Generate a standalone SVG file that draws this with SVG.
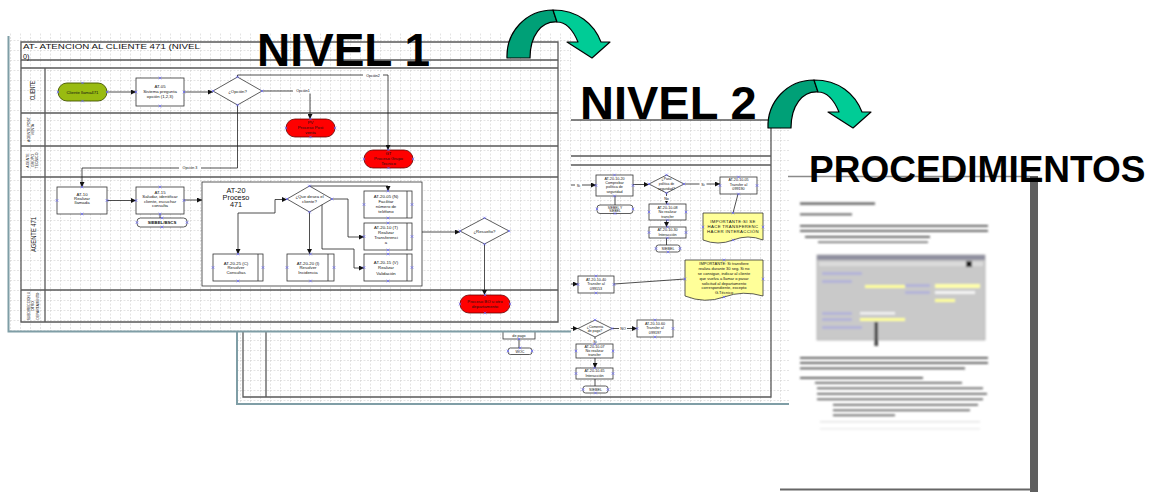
<svg xmlns="http://www.w3.org/2000/svg" xmlns:xlink="http://www.w3.org/1999/xlink" width="1151" height="492" viewBox="0 0 1151 492">
<defs>
<style>
text{font-family:"Liberation Sans",Arial,sans-serif;fill:#111}
.t{font-size:4.3px;text-anchor:middle}
.s{font-size:3.7px;text-anchor:middle}
.box{fill:#fff;stroke:#333;stroke-width:0.8}
.sub{fill:none;stroke:#333;stroke-width:0.8}
.red{fill:#f00;stroke:#600;stroke-width:0.8}
.grn{fill:#99bb11;stroke:#445500;stroke-width:0.9}
.doc{fill:#ffff99;stroke:#333;stroke-width:0.8}
.frm{fill:none;stroke:#5a5a5a;stroke-width:1.3}
.c{fill:none;stroke:#222;stroke-width:0.8}
.a{marker-end:url(#ah)}
.lb{fill:#fff}
.big{font-weight:bold;fill:#000}
.pb{fill:none;stroke:#7f9ea6;stroke-width:2}
.ga{stroke:#000;stroke-width:1.2;stroke-linejoin:round}
.bt{fill:#555}
</style>
<pattern id="grid" width="10" height="10" patternUnits="userSpaceOnUse">
<path d="M0,0.5H10M0.5,0V10" fill="none" stroke="#d2d2d2" stroke-width="0.6" stroke-dasharray="2,1.5"/>
</pattern>
<marker id="ah" markerWidth="5" markerHeight="5" refX="5" refY="2.5" orient="auto" markerUnits="userSpaceOnUse"><path d="M0,0L5,2.5L0,5Z" fill="#111"/></marker>
<path id="xm" d="M-1.3,-1.3L1.3,1.3M-1.3,1.3L1.3,-1.3" stroke="#6d6dff" stroke-width="0.7"/>
<filter id="bl" filterUnits="userSpaceOnUse" x="780" y="190" width="250" height="260"><feGaussianBlur stdDeviation="1.1"/></filter>
<g id="garrow">
<path class="ga" fill="#00a077" d="M507,58 C506,32 526,10 553,10 L557,22 C541,21 530,36 530,58 Z"/>
<path class="ga" fill="#00cc96" d="M553,10 C578,10 594,24 601,42 L610,42 L592,58 L567,42 L578,42 C573,30 567,22 557,22 Z"/>
</g>
</defs>
<rect width="1151" height="492" fill="#fff"/>

<!-- LEVEL 2 SHEET -->
<g id="nivel2-sheet">
<rect x="237" y="120" width="553" height="284" fill="#fff"/>
<rect x="237" y="120" width="553" height="284" fill="url(#grid)"/>
<path class="pb" d="M237,330V404H790"/>
<path class="frm" d="M243,120H771V397H243Z M243,156H771 M243,165H771 M266,165V397"/>
</g>
<g id="nivel2-nodes">
<g id="n2-comprobar"><rect class="box" x="596" y="175" width="37" height="21"/><text class="s"><tspan x="614.5" y="179.5">AT-20-10-20</tspan><tspan x="614.5" y="183.8">Comprobar</tspan><tspan x="614.5" y="188.3">política de</tspan><tspan x="614.5" y="192.7">seguridad</tspan></text></g>
<g id="n2-siebely"><rect class="box" x="597" y="205" width="36" height="8.5" rx="3"/><text class="s" style="font-size:3.3px"><tspan x="615" y="208.6">SIEBEL Y</tspan><tspan x="615" y="212.3">SIEBEL</tspan></text></g>
<g id="n2-pasa"><path class="box" d="M649,184L666.5,175L684,184L666.5,193Z"/><text class="s" style="font-size:3.4px"><tspan x="666.5" y="180">¿Pasa</tspan><tspan x="666.5" y="184.8">política de</tspan><tspan x="666.5" y="189.6">seguridad?</tspan></text></g>
<g id="n2-transfer190"><rect class="box" x="720" y="177" width="37" height="17"/><text class="s"><tspan x="738.5" y="181.2">AT-20-10-05</tspan><tspan x="738.5" y="185.7">Transfer al</tspan><tspan x="738.5" y="190.4">099190</tspan></text></g>
<g id="n2-norealizar1"><rect class="box" x="649" y="204" width="37" height="16"/><text class="s"><tspan x="667.5" y="208.6">AT-20-10-08</tspan><tspan x="667.5" y="213.4">No realizar</tspan><tspan x="667.5" y="218.2">transfer</tspan></text></g>
<g id="n2-interaccion1"><rect class="box" x="649" y="227" width="37" height="11"/><text class="s"><tspan x="667.5" y="231">AT-20-10-30</tspan><tspan x="667.5" y="235.8">Interacción</tspan></text></g>
<g id="n2-siebel1"><rect class="box" x="656" y="245" width="24" height="7" rx="2.5"/><text class="s" x="668" y="250">SIEBEL</text></g>
<g id="n2-doc1"><path class="doc" d="M703,213H763V240Q748,234 733,240T703,240Z"/><text class="t" style="letter-spacing:0.35px"><tspan x="733" y="222.5">IMPORTANTE:SI SE</tspan><tspan x="733" y="227.7">HACE TRANSFERENC</tspan><tspan x="733" y="233.3">HACER INTERACCIÓN</tspan></text></g>
<g id="n2-doc2"><path class="doc" d="M685,260H763V296Q743,290 724,297T685,296Z"/><text class="s" style="font-size:4px"><tspan x="724" y="265.3">IMPORTANTE: Si transfiere</tspan><tspan x="724" y="270.1">realiza durante 30 seg. Si no</tspan><tspan x="724" y="274.9">se consigue, indicar al cliente</tspan><tspan x="724" y="279.7">que vuelva a llamar o pasar</tspan><tspan x="724" y="284.5">solicitud al departamento</tspan><tspan x="724" y="289.3">correspondiente, excepto</tspan><tspan x="724" y="294.1">G.Técnico</tspan></text></g>
<g id="n2-transfer153"><rect class="box" x="578" y="276" width="36" height="17"/><text class="s"><tspan x="596" y="280.5">AT-20-10-40</tspan><tspan x="596" y="285.3">Transfer al</tspan><tspan x="596" y="290.2">099153</tspan></text></g>
<g id="n2-comenta"><path class="box" d="M578,328.5L595,320L612,328.5L595,337Z"/><text class="s" style="font-size:3.5px"><tspan x="595" y="327.5">¿Comenta</tspan><tspan x="595" y="332.3">de pago?</tspan></text></g>
<g id="n2-transfer197"><rect class="box" x="637" y="320" width="36" height="17"/><text class="s"><tspan x="655" y="324.5">AT-20-10-60</tspan><tspan x="655" y="329.4">Transfer al</tspan><tspan x="655" y="334.3">099197</tspan></text></g>
<g id="n2-norealizar2"><rect class="box" x="576" y="344" width="37" height="14"/><text class="s"><tspan x="594.5" y="347.5">AT-20-10-07</tspan><tspan x="594.5" y="351.8">No realizar</tspan><tspan x="594.5" y="356.4">transfer</tspan></text></g>
<g id="n2-interaccion2"><rect class="box" x="576" y="368" width="37" height="11"/><text class="s"><tspan x="594.5" y="372">AT-20-10-65</tspan><tspan x="594.5" y="377.3">Interacción</tspan></text></g>
<g id="n2-siebel2"><rect class="box" x="583" y="386" width="25" height="7" rx="2.5"/><text class="s" x="595.5" y="391.3">SIEBEL</text></g>
<g id="n2-depago"><rect class="box" x="503" y="322" width="32" height="17"/><text class="s" x="519" y="336.6">de pago</text></g>
<g id="n2-woc"><rect class="box" x="508" y="348" width="24" height="6.5" rx="2.5"/><text class="s" x="520" y="352.8">WOC</text></g>
</g>
<g id="nivel2-connectors">
<path class="c a" d="M570,185H596"/>
<path class="c" d="M615,196V205"/>
<path class="c a" d="M633,184.5H649"/>
<path class="c a" d="M684,184H720"/>
<path class="c a" d="M666.5,193V204"/>
<path class="c a" d="M666.5,220V227"/>
<path class="c" d="M666.5,238V245"/>
<path class="c" d="M738,194L733,213"/>
<path class="c a" d="M570,284H578"/>
<path class="c" d="M614,284L685,279"/>
<path class="c a" d="M570,328.5H578"/>
<path class="c a" d="M612,328.5H637"/>
<path class="c a" d="M595,337V344"/>
<path class="c a" d="M595,358V368"/>
<path class="c" d="M595,379V386"/>
<path class="c" d="M519,339V348"/>
<rect class="lb" x="575" y="182.5" width="7" height="5"/><text class="s" x="578.5" y="186.5">Si</text>
<rect class="lb" x="699.5" y="182" width="7" height="5"/><text class="s" x="703" y="186">Si</text>
<rect class="lb" x="663" y="196" width="7" height="5"/><text class="s" x="666.5" y="200">No</text>
<rect class="lb" x="619" y="326.5" width="8" height="5"/><text class="s" x="623" y="330.3">NO</text>
<rect class="lb" x="591.5" y="339" width="7" height="4.5"/><text class="s" x="595" y="342.6">Si</text>
</g>
<g id="nivel2-points">
<use href="#xm" x="614.5" y="175"/><use href="#xm" x="614.5" y="196"/><use href="#xm" x="596" y="185.5"/><use href="#xm" x="633" y="185.5"/>
<use href="#xm" x="597" y="209"/><use href="#xm" x="633" y="209"/><use href="#xm" x="615" y="213.5"/>
<use href="#xm" x="666.5" y="175"/><use href="#xm" x="649" y="184"/><use href="#xm" x="684" y="184"/><use href="#xm" x="666.5" y="193"/>
<use href="#xm" x="738.5" y="177"/><use href="#xm" x="738.5" y="194"/><use href="#xm" x="720" y="185.5"/><use href="#xm" x="757" y="185.5"/>
<use href="#xm" x="667.5" y="204"/><use href="#xm" x="667.5" y="220"/><use href="#xm" x="649" y="212"/><use href="#xm" x="686" y="212"/>
<use href="#xm" x="667.5" y="227"/><use href="#xm" x="667.5" y="238"/><use href="#xm" x="649" y="232.5"/><use href="#xm" x="686" y="232.5"/>
<use href="#xm" x="668" y="252"/><use href="#xm" x="656" y="248.5"/><use href="#xm" x="680" y="248.5"/>
<use href="#xm" x="733" y="213"/><use href="#xm" x="703" y="227"/><use href="#xm" x="763" y="227"/><use href="#xm" x="733" y="240"/>
<use href="#xm" x="724" y="260"/><use href="#xm" x="685" y="279"/><use href="#xm" x="763" y="279"/><use href="#xm" x="724" y="297"/>
<use href="#xm" x="596" y="276"/><use href="#xm" x="596" y="293"/><use href="#xm" x="578" y="284.5"/><use href="#xm" x="614" y="284.5"/>
<use href="#xm" x="595" y="320"/><use href="#xm" x="612" y="328.5"/>
<use href="#xm" x="655" y="320"/><use href="#xm" x="655" y="337"/><use href="#xm" x="637" y="328.5"/><use href="#xm" x="673" y="328.5"/>
<use href="#xm" x="594.5" y="344"/><use href="#xm" x="576" y="351"/><use href="#xm" x="613" y="351"/>
<use href="#xm" x="594.5" y="368"/><use href="#xm" x="576" y="373.5"/><use href="#xm" x="613" y="373.5"/>
<use href="#xm" x="595.5" y="393"/><use href="#xm" x="583" y="389.5"/><use href="#xm" x="608" y="389.5"/>
<use href="#xm" x="519" y="339"/><use href="#xm" x="520" y="348"/><use href="#xm" x="508" y="351"/><use href="#xm" x="532" y="351"/>
</g>

<!-- PROCEDURES PAGE -->
<g id="procedimientos-page">
<rect x="789" y="176" width="241" height="313" fill="#fff"/>
<rect x="1030" y="176" width="8" height="316" fill="#5f5f5f"/>
<path d="M788,176.5H1030" stroke="#8a8a8a" stroke-width="1.3"/>
<path d="M780,489.5H1031" stroke="#666" stroke-width="2"/>
<g filter="url(#bl)">
<rect class="bt" x="800" y="202.5" width="75" height="2.2"/>
<rect class="bt" x="800" y="213.5" width="52" height="1.8" fill="#777"/>
<rect class="bt" x="800" y="225" width="188" height="1.8"/>
<rect class="bt" x="800" y="230" width="188" height="1.8"/>
<rect class="bt" x="805" y="236" width="125" height="1.8"/>
<rect class="bt" x="818" y="241.5" width="110" height="1.4" fill="#888"/>
<rect x="817" y="255" width="168" height="85" fill="#c9c9c9" stroke="#aaa" stroke-width="0.8"/>
<rect x="817" y="255" width="168" height="5" fill="#8f8f9f"/>
<rect x="819" y="262" width="164" height="4" fill="#dcdcdc"/>
<rect x="966" y="261" width="6" height="6" fill="#222"/>
<rect x="822" y="272" width="40" height="3" fill="#b4b4d8"/>
<rect x="822" y="280" width="30" height="3" fill="#b4b4d8"/>
<rect x="865" y="285" width="40" height="3" fill="#ffff99"/>
<rect x="905" y="284" width="25" height="3" fill="#b4b4d8"/>
<rect x="935" y="284" width="45" height="4" fill="#ffffaa"/>
<rect x="905" y="291" width="25" height="3" fill="#b4b4d8"/>
<rect x="935" y="291" width="40" height="3" fill="#f4f4f4"/>
<rect x="935" y="299" width="20" height="3" fill="#ffff99"/>
<rect x="822" y="312" width="30" height="3" fill="#b4b4d8"/>
<rect x="860" y="312" width="35" height="2.5" fill="#f4f4f4"/>
<rect x="822" y="318" width="30" height="3" fill="#b4b4d8"/>
<rect x="860" y="318" width="45" height="3" fill="#ffff99"/>
<rect x="822" y="326" width="40" height="3" fill="#b4b4d8"/>
<rect x="874.5" y="322" width="3.5" height="24" fill="#444"/>
<rect class="bt" x="800" y="357" width="188" height="1.8"/>
<rect class="bt" x="800" y="362" width="188" height="1.8"/>
<rect class="bt" x="800" y="367.5" width="165" height="1.8"/>
<rect class="bt" x="800" y="377" width="123" height="1.8"/>
<rect class="bt" x="815" y="382" width="147" height="1.6"/>
<rect class="bt" x="817" y="387.5" width="166" height="1.6"/>
<rect class="bt" x="817" y="393" width="170" height="1.6"/>
<rect class="bt" x="817" y="398.5" width="166" height="1.6"/>
<rect class="bt" x="833" y="404" width="145" height="1.6"/>
<rect class="bt" x="833" y="409.5" width="137" height="1.6"/>
<rect class="bt" x="833" y="414.5" width="62" height="1.6"/>
<rect x="820" y="421" width="160" height="1.5" fill="#e4e4e4"/>
<rect x="820" y="428" width="160" height="1.5" fill="#ececec"/>
</g>
</g>

<!-- LEVEL 1 SHEET -->
<g id="nivel1-sheet">
<rect x="8" y="33" width="563" height="298" fill="#fff"/>
<rect x="8" y="33" width="563" height="298" fill="url(#grid)"/>
<path class="pb" d="M8.5,36V331.5H571" stroke-width="1.6"/>
<path class="frm" d="M21,42H558V322H21Z M21,60H558 M21,68H558 M21,113H558 M21,146H558 M21,177H558 M21,290H558 M45,68V322"/>
<text x="23" y="48.5" style="font-size:7.2px" textLength="177" lengthAdjust="spacingAndGlyphs">AT- ATENCION AL CLIENTE 471 (NIVEL</text>
<text x="23" y="58.5" style="font-size:7.2px">0)</text>
<text transform="translate(35,90.5) rotate(-90)" style="font-size:7px;text-anchor:middle" textLength="19" lengthAdjust="spacingAndGlyphs">CLIENTE</text>
<text transform="translate(29.5,129.5) rotate(-90)" class="s" style="font-size:3.5px"><tspan x="0" y="0">AGENTE POST</tspan><tspan x="0" y="4.5">VENTA</tspan></text>
<text transform="translate(29,160.5) rotate(-90)" class="s" style="font-size:3.5px"><tspan x="0" y="0">AGENTE</tspan><tspan x="0" y="4.5">GRUPO</tspan><tspan x="0" y="9">TECNICO</tspan></text>
<text transform="translate(36,234.5) rotate(-90)" style="font-size:8px;text-anchor:middle" textLength="35" lengthAdjust="spacingAndGlyphs">AGENTE 471</text>
<text transform="translate(29.5,306) rotate(-90)" class="s" style="font-size:3.3px"><tspan x="0" y="0">SUBDIRECCION U</tspan><tspan x="0" y="4.7">OTRO</tspan><tspan x="0" y="9.4">DEPARTAMENTO</tspan></text>
</g>
<g id="nivel1-nodes">
<g id="n1-cliente"><rect class="grn" x="58" y="83" width="49" height="18" rx="9"/><text class="t" x="82.5" y="93.5">Cliente llama471</text></g>
<g id="n1-at05"><rect class="box" x="136" y="78" width="48" height="28"/><text class="t"><tspan x="160" y="87.5">AT-05</tspan><tspan x="160" y="92.5">Sistema pregunta</tspan><tspan x="160" y="97.5">opción (1,2,3)</tspan></text></g>
<g id="n1-opcion"><path class="box" d="M213,91L237.5,77L262,91L237.5,105Z"/><text class="t" x="237.5" y="92.5">¿Opción?</text></g>
<g id="n1-pv"><rect class="red" x="286" y="119" width="49" height="18" rx="9"/><text class="t"><tspan x="310.5" y="123.8">PV</tspan><tspan x="310.5" y="128.8">Proceso Post</tspan><tspan x="310.5" y="133.8">venta</tspan></text></g>
<g id="n1-gt"><rect class="red" x="364" y="150" width="49" height="18" rx="9"/><text class="t"><tspan x="388.5" y="154.5">GT</tspan><tspan x="388.5" y="159.8">Proceso Grupo</tspan><tspan x="388.5" y="165">Tecnico</tspan></text></g>
<g id="n1-at10"><rect class="box" x="57" y="187" width="50" height="27"/><text class="t"><tspan x="82" y="195.5">AT-10</tspan><tspan x="82" y="199.8">Realizar</tspan><tspan x="82" y="204.1">llamada</tspan></text></g>
<g id="n1-at15"><rect class="box" x="136" y="187" width="48" height="27"/><text class="t"><tspan x="160" y="193.5">AT-15</tspan><tspan x="160" y="198">Saludar, identificar</tspan><tspan x="160" y="202.5">cliente, escuchar</tspan><tspan x="160" y="207">consulta</tspan></text></g>
<g id="n1-siebel"><rect class="box" x="137" y="218" width="50" height="9" rx="3.5"/><text class="t" x="162" y="224" style="font-weight:bold">SIEBEL/BSCS</text></g>
<g id="n1-at20"><rect class="box" x="202" y="182" width="220" height="104" stroke-width="1.1"/><text style="font-size:7.3px;text-anchor:middle"><tspan x="236" y="192.5">AT-20</tspan><tspan x="236" y="199.7">Proceso</tspan><tspan x="236" y="206.9">471</tspan></text></g>
<g id="n1-quedesea"><path class="box" d="M287,199L309.5,186L332,199L309.5,212Z"/><text class="t"><tspan x="309.5" y="198.3">¿Que desea el</tspan><tspan x="309.5" y="202.8">cliente?</tspan></text></g>
<g id="n1-consultas"><rect class="box" x="213" y="254" width="50" height="27"/><path class="sub" d="M258,254V281"/><text class="t"><tspan x="236" y="264.5">AT-20-25 (C)</tspan><tspan x="236" y="269">Resolver</tspan><tspan x="236" y="274">Consultas</tspan></text></g>
<g id="n1-incidencia"><rect class="box" x="287" y="254" width="47" height="27"/><path class="sub" d="M328,254V281"/><text class="t"><tspan x="308" y="264.5">AT-20-20 (I)</tspan><tspan x="308" y="269">Resolver</tspan><tspan x="308" y="274">Incidencia</tspan></text></g>
<g id="n1-facilitar"><rect class="box" x="364" y="191" width="48" height="27"/><path class="sub" d="M407,191V218"/><text class="t"><tspan x="386" y="197.5">AT-20-05 (N)</tspan><tspan x="386" y="203">Facilitar</tspan><tspan x="386" y="208.2">número de</tspan><tspan x="386" y="213.4">teléfono</tspan></text></g>
<g id="n1-transferencia"><rect class="box" x="364" y="223" width="48" height="27"/><path class="sub" d="M407,223V250"/><text class="t"><tspan x="386" y="228.5">AT-20-10 (T)</tspan><tspan x="386" y="233.5">Realizar</tspan><tspan x="386" y="238.5">Transferenci</tspan><tspan x="386" y="244">a</tspan></text></g>
<g id="n1-validacion"><rect class="box" x="364" y="254" width="48" height="27"/><path class="sub" d="M407,254V281"/><text class="t"><tspan x="386" y="264">AT-20-15 (V)</tspan><tspan x="386" y="269.3">Realizar</tspan><tspan x="386" y="274.5">Validación</tspan></text></g>
<g id="n1-resuelto"><path class="box" d="M460,231L484.5,218L509,231L484.5,244Z"/><text class="t" x="484.5" y="232.5">¿Resuelto?</text></g>
<g id="n1-bo"><rect class="red" x="460" y="295" width="50" height="18" rx="9"/><text class="t"><tspan x="485" y="302.5">Proceso BO u otro</tspan><tspan x="485" y="307.8">departamento</tspan></text></g>
</g>
<g id="nivel1-connectors">
<path class="c a" d="M107,92H136"/>
<path class="c a" d="M184,92H213"/>
<path class="c a" d="M262,91H310V119"/>
<path class="c a" d="M237.5,77V75H388V150"/>
<path class="c a" d="M237.5,105V168H82V187"/>
<path class="c a" d="M107,200.5H136"/>
<path class="c" d="M160,214V218"/>
<path class="c a" d="M184,200H202"/>
<path class="c a" d="M309.5,186H388V191"/>
<path class="c a" d="M275,213V199.5H287"/>
<path class="c a" d="M275,213H238V254"/>
<path class="c a" d="M309.5,212V254"/>
<path class="c a" d="M332,199H348V237H364"/>
<path class="c a" d="M322,204.8V249H354V268H364"/>
<path class="c a" d="M422,232H460"/>
<path class="c a" d="M484.5,244V295"/>
<rect class="lb" x="293" y="88.5" width="20" height="5"/><text class="s" x="303" y="92.3">Opción1</text>
<rect class="lb" x="363" y="73" width="20" height="5"/><text class="s" x="373" y="76.8">Opción2</text>
<rect class="lb" x="179" y="165.5" width="22" height="5"/><text class="s" x="190" y="169.3">Opción 3</text>
</g>
<g id="nivel1-points">
<use href="#xm" x="82.5" y="83"/><use href="#xm" x="82.5" y="101"/><use href="#xm" x="58" y="92"/><use href="#xm" x="107" y="92"/>
<use href="#xm" x="160" y="78"/><use href="#xm" x="160" y="106"/><use href="#xm" x="136" y="92"/><use href="#xm" x="184" y="92"/>
<use href="#xm" x="237.5" y="77"/><use href="#xm" x="237.5" y="105"/><use href="#xm" x="213" y="91"/><use href="#xm" x="262" y="91"/>
<use href="#xm" x="310.5" y="119"/><use href="#xm" x="310.5" y="137"/><use href="#xm" x="286" y="128"/><use href="#xm" x="335" y="128"/>
<use href="#xm" x="388.5" y="150"/><use href="#xm" x="388.5" y="168"/><use href="#xm" x="364" y="159"/><use href="#xm" x="413" y="159"/>
<use href="#xm" x="82" y="187"/><use href="#xm" x="82" y="214"/><use href="#xm" x="57" y="200.5"/><use href="#xm" x="107" y="200.5"/>
<use href="#xm" x="160" y="187"/><use href="#xm" x="160" y="214"/><use href="#xm" x="136" y="200.5"/><use href="#xm" x="184" y="200.5"/>
<use href="#xm" x="162" y="218"/><use href="#xm" x="162" y="227"/><use href="#xm" x="137" y="222.5"/><use href="#xm" x="187" y="222.5"/>
<use href="#xm" x="309.5" y="186"/><use href="#xm" x="309.5" y="212"/><use href="#xm" x="287" y="199"/><use href="#xm" x="332" y="199"/>
<use href="#xm" x="238" y="254"/><use href="#xm" x="238" y="281"/><use href="#xm" x="213" y="267.5"/><use href="#xm" x="263" y="267.5"/>
<use href="#xm" x="310.5" y="254"/><use href="#xm" x="310.5" y="281"/><use href="#xm" x="287" y="267.5"/><use href="#xm" x="334" y="267.5"/>
<use href="#xm" x="388" y="191"/><use href="#xm" x="388" y="218"/><use href="#xm" x="364" y="204.5"/><use href="#xm" x="412" y="204.5"/>
<use href="#xm" x="388" y="223"/><use href="#xm" x="388" y="250"/><use href="#xm" x="364" y="236.5"/><use href="#xm" x="412" y="236.5"/>
<use href="#xm" x="388" y="254"/><use href="#xm" x="388" y="281"/><use href="#xm" x="364" y="267.5"/><use href="#xm" x="412" y="267.5"/>
<use href="#xm" x="484.5" y="218"/><use href="#xm" x="484.5" y="244"/><use href="#xm" x="460" y="231"/><use href="#xm" x="509" y="231"/>
<use href="#xm" x="485" y="295"/><use href="#xm" x="485" y="313"/><use href="#xm" x="460" y="304"/><use href="#xm" x="510" y="304"/>
</g>

<!-- HEADINGS AND ARROWS -->
<g id="headings">
<text class="big" x="257" y="66" style="font-size:46px">NIVEL 1</text>
<text class="big" x="580" y="119" style="font-size:47px">NIVEL 2</text>
<text class="big" x="809" y="182" style="font-size:37px">PROCEDIMIENTOS</text>
</g>
<g id="arrows">
<use href="#garrow"/>
<use href="#garrow" transform="translate(261,70)"/>
</g>
</svg>
